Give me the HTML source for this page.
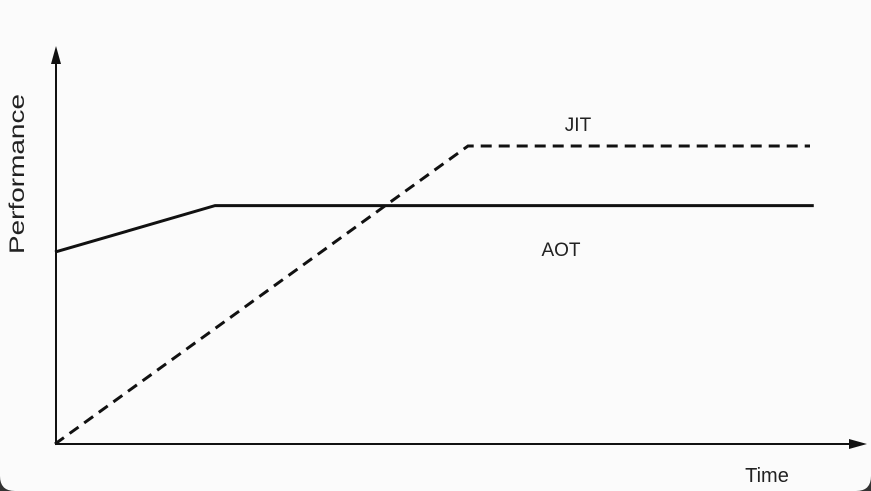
<!DOCTYPE html>
<html><head><meta charset="utf-8"><style>
html,body{margin:0;padding:0;background:#fff;}
svg{display:block;font-family:"Liberation Sans",sans-serif;}
</style></head><body>
<svg id="chart" width="871" height="491" viewBox="0 0 871 491">
<rect width="871" height="491" fill="#fbfbfb"/>
<path d="M0 476 Q0 491 15 491 L0 491Z" fill="#333"/>
<path d="M871 476 Q871 491 856 491 L871 491Z" fill="#333"/>
<g id="axes">
<line x1="56" y1="444" x2="56" y2="60" stroke="#111" stroke-width="2"/>
<polygon points="56,46 51,64 61,64" fill="#111"/>
<line x1="55" y1="444" x2="852" y2="444" stroke="#111" stroke-width="2"/>
<polygon points="867,444 849,439 849,449" fill="#111"/>
<text x="767" y="482" font-size="20" text-anchor="middle" fill="#222">Time</text>
<text transform="translate(24,174) rotate(-90)" font-size="21" text-anchor="middle" textLength="160" lengthAdjust="spacingAndGlyphs" fill="#222">Performance</text>
</g>
<g id="series"></g>
<text x="578" y="131" font-size="19" text-anchor="middle" fill="#222">JIT</text>
<text x="561" y="256" font-size="19" text-anchor="middle" fill="#222">AOT</text>
</svg>
<script>
const aotTime=[0,2.12,10.05];
const aotPerf=[6.44,8.0,8.0];
const jitTime=[0,5.47,10];
const jitPerf=[0,10,10];
function xs(t){return 55+t*75.5;}
function ys(p){return 444-p*29.8;}
const g=document.getElementById('series');
function draw(ts,ps,name,dash){
  const el=document.createElementNS('http://www.w3.org/2000/svg','polyline');
  el.setAttribute('points',ts.map((t,i)=>xs(t)+','+ys(ps[i])).join(' '));
  el.setAttribute('fill','none');
  el.setAttribute('stroke','#111');
  el.setAttribute('stroke-width','3');
  if(dash)el.setAttribute('stroke-dasharray','11 7');
  
  
  g.appendChild(el);
}
draw(aotTime,aotPerf,'aot-line',false);
draw(jitTime,jitPerf,'jit-line',true);
</script>
</body></html>
